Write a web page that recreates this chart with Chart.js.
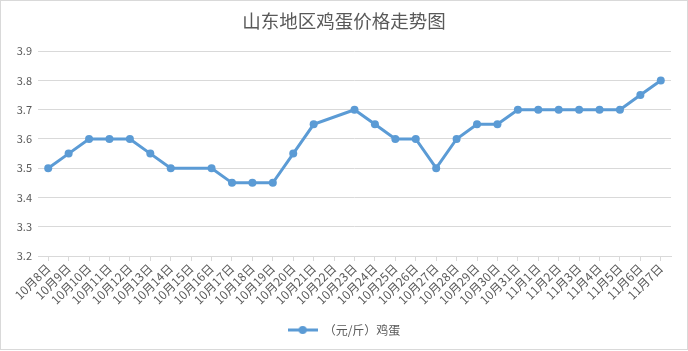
<!DOCTYPE html>
<html>
<head>
<meta charset="utf-8">
<script src="https://cdn.jsdelivr.net/npm/chart.js@4"></script>
<style>
  html, body { margin: 0; padding: 0; background: #fff; }
  #wrap { width: 688px; height: 351px; }
</style>
</head>
<body>
<div id="wrap"><canvas id="eggChart" width="688" height="351"></canvas></div>
<script>
const TITLE = "山东地区鸡蛋价格走势图";
const SERIES_NAME = "（元/斤）鸡蛋";
const dates = [
  "10月8日", "10月9日", "10月10日", "10月11日", "10月12日", "10月13日", "10月14日",
  "10月15日", "10月16日", "10月17日", "10月18日", "10月19日", "10月20日", "10月21日",
  "10月22日", "10月23日", "10月24日", "10月25日", "10月26日", "10月27日", "10月28日",
  "10月29日", "10月30日", "10月31日", "11月1日", "11月2日", "11月3日", "11月4日",
  "11月5日", "11月6日", "11月7日"
];
// null = no quote that day (line bridges the gap)
const prices = [
  3.5, 3.55, 3.6, 3.6, 3.6, 3.55, 3.5,
  null, 3.5, 3.45, 3.45, 3.45, 3.55, 3.65,
  null, 3.7, 3.65, 3.6, 3.6, 3.5, 3.6,
  3.65, 3.65, 3.7, 3.7, 3.7, 3.7, 3.7,
  3.7, 3.75, 3.8
];
const yMin = 3.2, yMax = 3.9, yStep = 0.1;

const BLUE = "#5b9bd5";
const TEXT = "#595959";
const GRID = "#d9d9d9";
const FONT = "'Noto Sans CJK SC', 'Noto Sans', sans-serif";

// legend marker: line with a dot in the middle
const legendIcon = document.createElement("canvas");
legendIcon.width = 30; legendIcon.height = 10;
(function () {
  const c = legendIcon.getContext("2d");
  c.strokeStyle = BLUE; c.lineWidth = 3;
  c.beginPath(); c.moveTo(0, 5); c.lineTo(30, 5); c.stroke();
  c.fillStyle = BLUE;
  c.beginPath(); c.arc(15, 5, 4, 0, Math.PI * 2); c.fill();
})();

const frame = {
  id: "frame",
  afterDraw(chart) {
    const ctx = chart.ctx;
    ctx.save();
    ctx.strokeStyle = GRID; ctx.lineWidth = 1;
    ctx.strokeRect(0.5, 0.5, chart.width - 1, chart.height - 2);
    ctx.restore();
  }
};

new Chart(document.getElementById("eggChart"), {
  type: "line",
  data: {
    labels: dates,
    datasets: [{
      label: SERIES_NAME,
      data: prices,
      borderColor: BLUE,
      backgroundColor: BLUE,
      borderWidth: 3,
      pointRadius: 4,
      pointHoverRadius: 4,
      pointBackgroundColor: BLUE,
      pointBorderWidth: 0,
      spanGaps: true,
      tension: 0
    }]
  },
  options: {
    responsive: false,
    animation: false,
    layout: { padding: { top: 0, right: 0, bottom: 5, left: 0 } },
    plugins: {
      title: {
        display: true, text: TITLE, color: TEXT,
        font: { family: FONT, size: 18.5, weight: "normal" },
        padding: { top: 10, bottom: 19 }
      },
      legend: {
        position: "bottom",
        labels: {
          color: TEXT, font: { family: FONT, size: 12 },
          usePointStyle: true, pointStyle: legendIcon, pointStyleWidth: 30,
          boxHeight: 10, padding: 10
        }
      },
      tooltip: { enabled: false }
    },
    scales: {
      x: {
        offset: true,
        grid: { drawOnChartArea: false, drawTicks: true, tickLength: 5, color: GRID },
        border: { color: GRID },
        ticks: {
          color: TEXT, font: { family: FONT, size: 12 },
          autoSkip: false, minRotation: 45, maxRotation: 45, padding: 0
        },
        afterFit(s) { s.height = 58; }
      },
      y: {
        min: yMin, max: yMax,
        grid: { color: GRID, drawTicks: false },
        border: { display: false },
        ticks: {
          stepSize: yStep, color: TEXT, font: { family: FONT, size: 11 }, padding: 6,
          callback: v => v.toFixed(1)
        },
        afterFit(s) { s.width = 38; }
      },
      // empty right-hand spacer so the plot stops short of the frame
      // while the title and legend stay centred on the whole canvas
      spacer: {
        type: "linear", position: "right", min: yMin, max: yMax,
        grid: { display: false }, border: { display: false },
        ticks: { display: false },
        afterFit(s) { s.width = 17; }
      }
    }
  },
  plugins: [frame]
});
</script>
</body>
</html>
